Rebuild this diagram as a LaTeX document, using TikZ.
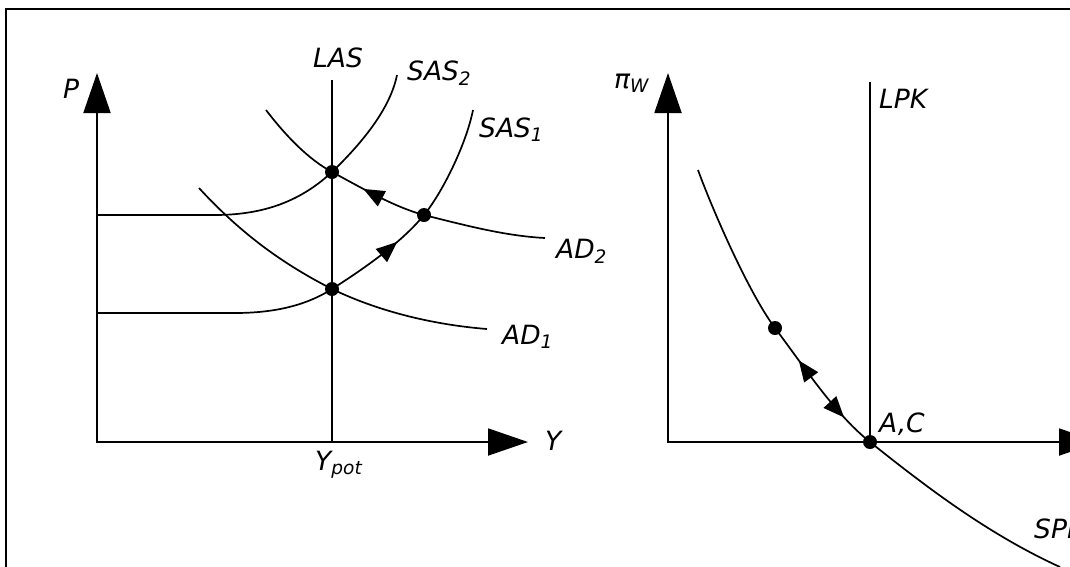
\documentclass[tikz,border=0pt]{standalone}
\usepackage{fontspec}
\setmainfont{DejaVu Sans}
\usepackage{tikz}
\usetikzlibrary{arrows.meta,decorations.markings}
\tikzset{
  curve/.style={line width=1.7pt},
  axes/.style={line width=1.9pt, {Triangle[length=40pt, width=27pt]}-{Triangle[length=40pt, width=27pt]}},
  eqdot/.style={circle, fill, inner sep=0pt, minimum size=14pt},
  lbl/.style={font=\fontsize{26.5}{30}\selectfont\itshape, inner sep=0pt, anchor=base west},
  arrowat/.style={postaction={decorate, decoration={markings,
      mark=at position #1 with {\arrow{Triangle[length=21pt, width=17pt]}}}}},
  arrowback/.style={postaction={decorate, decoration={markings,
      mark=at position #1 with {\arrowreversed{Triangle[length=21pt, width=17pt]}}}}},
}

\begin{document}
\begin{tikzpicture}[x=1pt, y=-1pt]
  \clip (0,0) rectangle (1070,566);
  \draw[line width=1.9pt] (6,9) rectangle (1090,600);

  % left panel: AD-AS
  \coordinate (Ptop) at (97,73);
  \coordinate (Yend) at (528,442);
  \coordinate (LAStop) at (332,80);
  \coordinate (Ypot) at (332,442);
  \coordinate (E0) at (332,289);
  \coordinate (E1) at (424,215);
  \coordinate (E2) at (332,172);
  \draw[axes] (Ptop) |- (Yend);
  \draw[curve] (LAStop) -- (Ypot);
  % AD curves
  \draw[curve] (199,188) .. controls (244,237) and (287,266) .. (E0)
        .. controls (382,313) and (437,325) .. (487,329);
  \draw[curve] (266,110) .. controls (286,136) and (308,159) .. (E2);
  \draw[curve, arrowback=0.35] (E2) .. controls (362,188) and (394,207) .. (E1);
  \draw[curve] (E1) .. controls (464,225) and (505,236) .. (545,238);
  % SAS curves
  \draw[curve] (97,215) -- (215,215) .. controls (270,215) and (305,197) .. (E2)
        .. controls (360,145) and (390,110) .. (397,75);
  \draw[curve] (97,313) -- (235,313) .. controls (280,313) and (310,303) .. (E0);
  \draw[curve, arrowat=0.68] (E0) .. controls (365,268) and (402,242) .. (E1);
  \draw[curve] (E1) .. controls (442,193) and (466,145) .. (473,110);
  \foreach \p in {E0,E1,E2}
    \node[eqdot] (dot\p) at (\p) {};
  \node[lbl] (lP) at (63,98) {P};
  \node[lbl] (lY) at (545,450) {Y};
  \node[lbl] (lYpot) at (315,470) {Y\textsubscript{pot}};
  \node[lbl] (lLAS) at (313,67) {LAS};
  \node[lbl] (lSAS2) at (407,80) {SAS\textsubscript{2}};
  \node[lbl] (lSAS1) at (479,137) {SAS\textsubscript{1}};
  \node[lbl] (lAD2) at (556,258) {AD\textsubscript{2}};
  \node[lbl] (lAD1) at (502,344) {AD\textsubscript{1}};

  % right panel: Phillips curve
  \coordinate (Wtop) at (668,73);
  \coordinate (Uend) at (1099,442);
  \coordinate (LPKtop) at (870,82);
  \coordinate (AC) at (870,442);
  \coordinate (D1) at (775,328);
  \draw[axes] (Wtop) |- (Uend);
  \draw[curve] (LPKtop) -- (AC);
  \draw[curve] (698,170) .. controls (711,206) and (748,292) .. (D1);
  \draw[curve, arrowback=0.27, arrowat=0.76] (D1) .. controls (805,368) and (835,414) .. (AC);
  \draw[curve] (AC) .. controls (930,490) and (990,535) .. (1060,567);
  \foreach \p in {D1,AC}
    \node[eqdot] (dot\p) at (\p) {};
  \node[lbl] (lpi) at (614,88) {π\textsubscript{W}};
  \node[lbl] (lLPK) at (879,108) {LPK};
  \node[lbl] (lAC) at (879,432) {A,C};
  \node[lbl] (lSPK) at (1034,538) {SPK};
\end{tikzpicture}
\end{document}
